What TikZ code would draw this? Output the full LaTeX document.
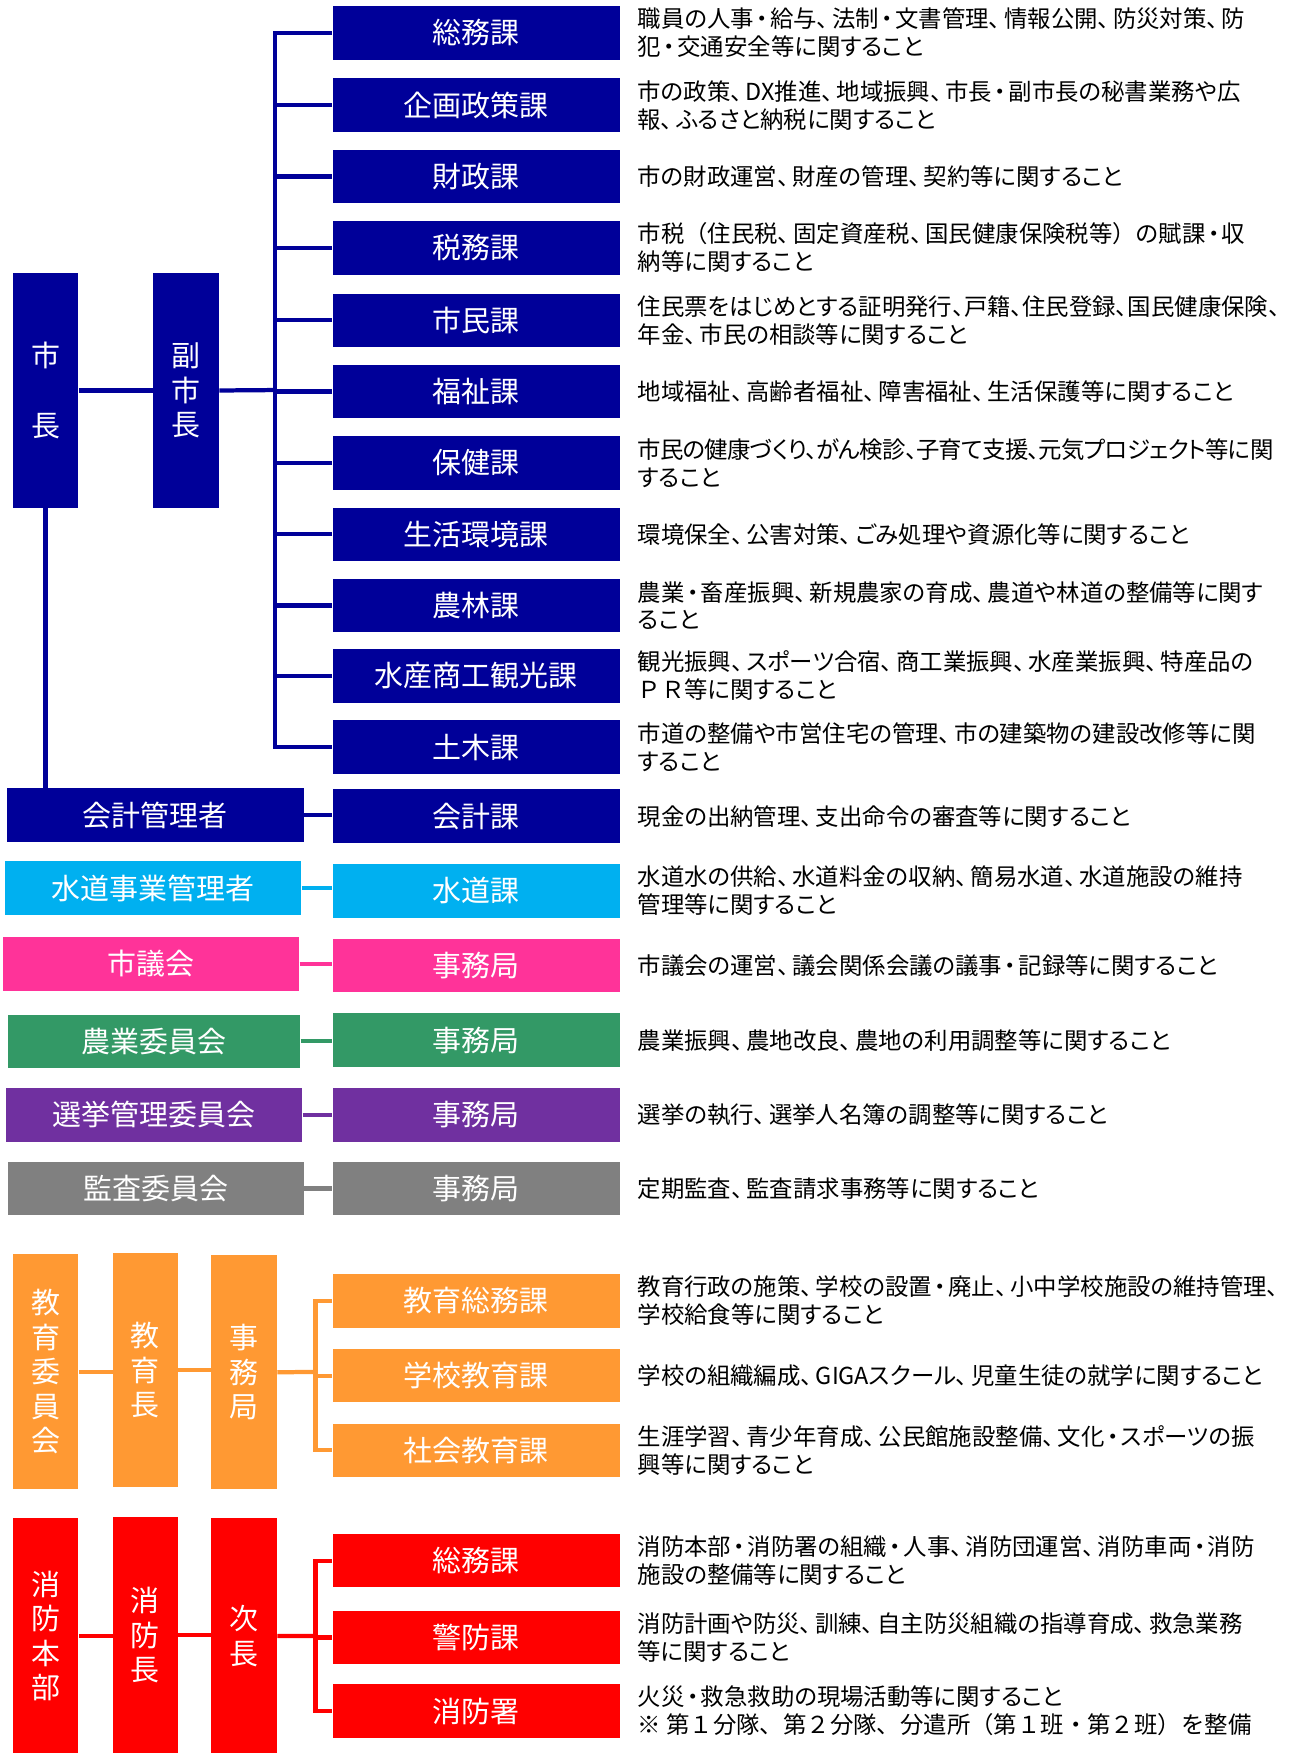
\documentclass[tikz,border=0pt]{standalone}
\usepackage{fontspec}
\newfontfamily\jp[RawFeature=+palt]{Noto Sans CJK JP}
\newfontfamily\jpn{Noto Sans CJK JP}
\newcommand\tn{、\kern0.15em}
\newcommand\nk{\kern0.1em・\kern0.1em}
\definecolor{navyc}{RGB}{0,0,153}
\definecolor{cyanc}{RGB}{0,176,240}
\definecolor{pinkc}{RGB}{255,51,153}
\definecolor{greenc}{RGB}{51,153,102}
\definecolor{purplec}{RGB}{112,48,160}
\definecolor{grayc}{RGB}{128,128,128}
\definecolor{orangec}{RGB}{255,153,51}
\definecolor{redc}{RGB}{255,0,0}
\begin{document}
\begin{tikzpicture}[x=0.5pt,y=-0.5pt,
  box/.style={anchor=north west, inner sep=0pt, text=white, align=center,
    font=\jp\fontsize{13}{15.5}\selectfont},
  dept/.style={box, minimum width=129pt, minimum height=24pt},
  headbox/.style={box, minimum width=133pt, minimum height=24pt},
  vbox/.style={box, minimum width=29.5pt, minimum height=105pt},
  desc/.style={anchor=west, inner sep=0pt, align=left, text=black,
    font=\jp\fontsize{10.5}{12.5}\selectfont},
  link/.style={line width=1.9pt},
  navylink/.style={link, draw=navyc}
]
\useasboundingbox (0,0) rectangle (1160,1573);

% top: mayor and vice mayor
\node[vbox, fill=navyc] (mayor) at (11,245) {市\\[16pt]長};
\node[vbox, fill=navyc] (vice) at (137,245) {副\\市\\長};

% departments
\node[dept, fill=navyc] (d1) at (298,5) {総務課};
\node[dept, fill=navyc] (d2) at (298,70) {企画政策課};
\node[dept, fill=navyc] (d3) at (298,134) {財政課};
\node[dept, fill=navyc] (d4) at (298,198) {税務課};
\node[dept, fill=navyc] (d5) at (298,263) {市民課};
\node[dept, fill=navyc] (d6) at (298,327) {福祉課};
\node[dept, fill=navyc] (d7) at (298,391) {保健課};
\node[dept, fill=navyc] (d8) at (298,455) {生活環境課};
\node[dept, fill=navyc] (d9) at (298,519) {農林課};
\node[dept, fill=navyc] (d10) at (298,582) {水産商工観光課};
\node[dept, fill=navyc] (d11) at (298,646) {土木課};
\node[dept, fill=navyc] (d12) at (298,708) {会計課};
\node[dept, fill=cyanc] (d13) at (298,775) {水道課};
\node[dept, fill=pinkc] (d14) at (298,842) {事務局};
\node[dept, fill=greenc] (d15) at (298,909) {事務局};
\node[dept, fill=purplec] (d16) at (298,976) {事務局};
\node[dept, fill=grayc] (d17) at (298,1042) {事務局};
\node[dept, fill=orangec] (d18) at (298,1143) {教育総務課};
\node[dept, fill=orangec] (d19) at (298,1210) {学校教育課};
\node[dept, fill=orangec] (d20) at (298,1277) {社会教育課};
\node[dept, fill=redc] (d21) at (298,1376) {総務課};
\node[dept, fill=redc] (d22) at (298,1445) {警防課};
\node[dept, fill=redc] (d23) at (298,1511) {消防署};

% left heads
\node[headbox, fill=navyc] (acc) at (6,707) {会計管理者};
\node[headbox, fill=cyanc, minimum height=24.5pt] (water) at (4,772) {水道事業管理者};
\node[headbox, fill=pinkc, minimum height=24.5pt] (council) at (2,840) {市議会};
\node[headbox, fill=greenc, minimum width=131pt] (agri) at (7,910) {農業委員会};
\node[headbox, fill=purplec] (elec) at (5,976) {選挙管理委員会};
\node[headbox, fill=grayc, minimum width=132.5pt] (audit) at (7,1042) {監査委員会};

% education
\node[vbox, fill=orangec, minimum height=105.5pt] (edboard) at (11,1125) {教\\育\\委\\員\\会};
\node[vbox, fill=orangec, minimum width=29pt] (edchief) at (101,1124) {教\\育\\長};
\node[vbox, fill=orangec] (edsec) at (189,1126) {事\\務\\局};

% fire
\node[vbox, fill=redc, minimum height=105.5pt] (fhq) at (11,1362) {消\\防\\本\\部};
\node[vbox, fill=redc, minimum width=29pt, minimum height=106pt] (fchief) at (101,1361) {消\\防\\長};
\node[vbox, fill=redc, minimum height=105.5pt] (fdep) at (189,1362) {次\\長};

% descriptions
\node[desc] (t1) at ([xshift=7.5pt]d1.east) {職員の人事\nk 給与\tn 法制\nk 文書管理\tn 情報公開\tn 防災対策\tn 防\\犯\nk 交通安全等に関すること};
\node[desc] (t2) at ([xshift=7.5pt]d2.east) {市の政策\tn DX推進\tn 地域振興\tn 市長\nk 副市長の秘書業務や広\\報\tn ふるさと納税に関すること};
\node[desc] (t3) at ([xshift=7.5pt]d3.east) {市の財政運営\tn 財産の管理\tn 契約等に関すること};
\node[desc] (t4) at ([xshift=7.5pt]d4.east) {市税{\jpn（}住民税\tn 固定資産税\tn 国民健康保険税等{\jpn）}の賦課\nk 収\\納等に関すること};
\node[desc] (t5) at ([xshift=7.5pt]d5.east) {住民票をはじめとする証明発行、戸籍、住民登録、国民健康保険、\\年金\tn 市民の相談等に関すること};
\node[desc] (t6) at ([xshift=7.5pt]d6.east) {地域福祉\tn 高齢者福祉\tn 障害福祉\tn 生活保護等に関すること};
\node[desc] (t7) at ([xshift=7.5pt]d7.east) {\addfontfeature{LetterSpace=-3}市民の健康づくり、がん検診、子育て支援、元気プロジェクト等に関\\すること};
\node[desc] (t8) at ([xshift=7.5pt]d8.east) {環境保全\tn 公害対策\tn ごみ処理や資源化等に関すること};
\node[desc] (t9) at ([xshift=7.5pt]d9.east) {農業\nk 畜産振興\tn 新規農家の育成\tn 農道や林道の整備等に関す\\ること};
\node[desc] (t10) at ([xshift=7.5pt]d10.east) {観光振興\tn スポーツ合宿\tn 商工業振興\tn 水産業振興\tn 特産品の\\{\jpn ＰＲ}等に関すること};
\node[desc] (t11) at ([xshift=7.5pt]d11.east) {市道の整備や市営住宅の管理\tn 市の建築物の建設改修等に関\\すること};
\node[desc] (t12) at ([xshift=7.5pt]d12.east) {現金の出納管理\tn 支出命令の審査等に関すること};
\node[desc] (t13) at ([xshift=7.5pt]d13.east) {水道水の供給\tn 水道料金の収納\tn 簡易水道\tn 水道施設の維持\\管理等に関すること};
\node[desc] (t14) at ([xshift=7.5pt]d14.east) {市議会の運営\tn 議会関係会議の議事\nk 記録等に関すること};
\node[desc] (t15) at ([xshift=7.5pt]d15.east) {農業振興\tn 農地改良\tn 農地の利用調整等に関すること};
\node[desc] (t16) at ([xshift=7.5pt]d16.east) {選挙の執行\tn 選挙人名簿の調整等に関すること};
\node[desc] (t17) at ([xshift=7.5pt]d17.east) {定期監査\tn 監査請求事務等に関すること};
\node[desc] (t18) at ([xshift=7.5pt]d18.east) {教育行政の施策\tn 学校の設置\nk 廃止\tn 小中学校施設の維持管理、\\学校給食等に関すること};
\node[desc] (t19) at ([xshift=7.5pt]d19.east) {学校の組織編成\tn GIGAスクール\tn 児童生徒の就学に関すること};
\node[desc] (t20) at ([xshift=7.5pt]d20.east) {生涯学習\tn 青少年育成\tn 公民館施設整備\tn 文化\nk スポーツの振\\興等に関すること};
\node[desc] (t21) at ([xshift=7.5pt]d21.east) {消防本部\nk 消防署の組織\nk 人事\tn 消防団運営\tn 消防車両\nk 消防\\施設の整備等に関すること};
\node[desc] (t22) at ([xshift=7.5pt]d22.east) {消防計画や防災\tn 訓練\tn 自主防災組織の指導育成\tn 救急業務\\等に関すること};
\node[desc] (t23) at ([xshift=7.5pt]d23.east) {火災\nk 救急救助の現場活動等に関すること\\{\jpn ※ 第１分隊、第２分隊、分遣所（第１班・第２班）を整備}};

% connectors: mayor branch
\coordinate (bus) at (247,350);
\draw[navylink] (mayor.east) -- (vice.west);
\draw[navylink] (vice.east) -- (bus);
\draw[navylink] (d1.west) -- (d1.west -| bus) -- (d11.west -| bus) -- (d11.west);
\foreach \i in {2,...,10} { \draw[navylink] (d\i.west) -- (d\i.west -| bus); }
\draw[navylink] (mayor.south) -- (mayor.south |- acc.north);
\draw[navylink] (acc.east) -- (acc.east -| d12.west);

% pairs
\draw[link, draw=cyanc] (water.east) -- (water.east -| d13.west);
\draw[link, draw=pinkc] (council.east) -- (council.east -| d14.west);
\draw[link, draw=greenc] (agri.east) -- (agri.east -| d15.west);
\draw[link, draw=purplec] (elec.east) -- (elec.east -| d16.west);
\draw[link, draw=grayc] (audit.east) -- (audit.east -| d17.west);

% education connectors
\coordinate (ebus) at (283,1231);
\draw[link, draw=orangec] (edboard.east) -- (edboard.east -| edchief.west);
\draw[link, draw=orangec] (edchief.east) -- (edchief.east -| edsec.west);
\draw[link, draw=orangec] (edsec.east) -- (ebus);
\draw[link, draw=orangec] (d18.west) -- (d18.west -| ebus) -- (d20.west -| ebus) -- (d20.west);
\draw[link, draw=orangec] (d19.west) -- (d19.west -| ebus);

% fire connectors
\coordinate (fbus) at (283,1468);
\draw[link, draw=redc] (fhq.east) -- (fhq.east -| fchief.west);
\draw[link, draw=redc] (fchief.east) -- (fchief.east -| fdep.west);
\draw[link, draw=redc] (fdep.east) -- (fbus);
\draw[link, draw=redc] (d21.west) -- (d21.west -| fbus) -- (d23.west -| fbus) -- (d23.west);
\draw[link, draw=redc] (d22.west) -- (d22.west -| fbus);
\end{tikzpicture}
\end{document}
